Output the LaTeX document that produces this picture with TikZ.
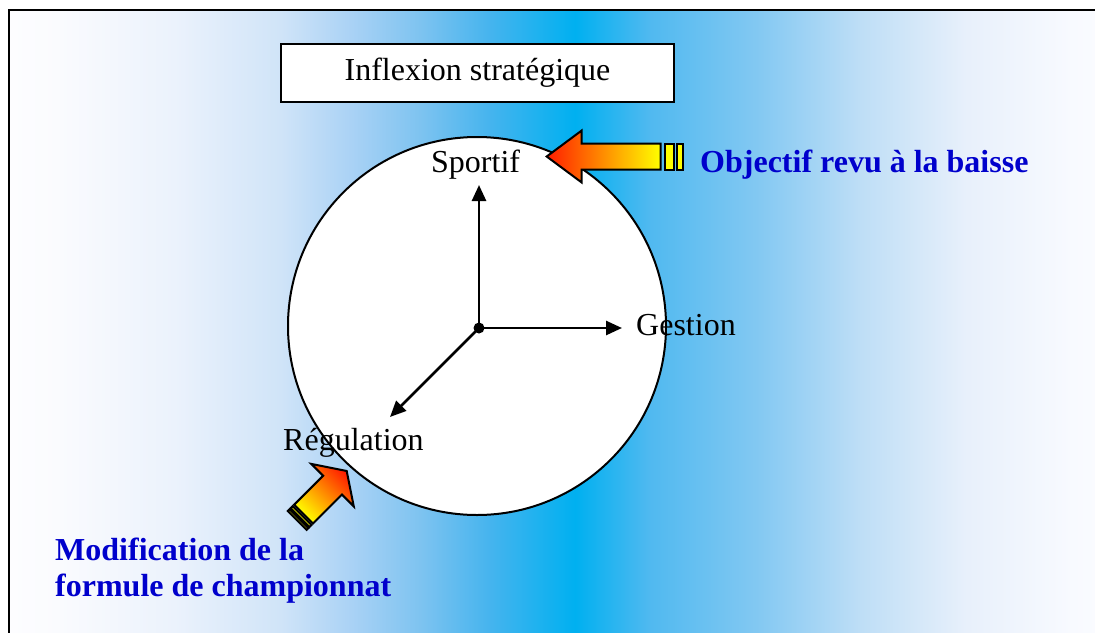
\documentclass[tikz,border=0pt]{standalone}
\usepackage{fontspec}
\setmainfont{Liberation Serif}
\usetikzlibrary{arrows.meta}
\definecolor{bga}{RGB}{253,253,255}
\definecolor{bgb}{RGB}{250,251,254}
\definecolor{bgc}{RGB}{235,242,252}
\definecolor{bgd}{RGB}{208,228,248}
\definecolor{bge}{RGB}{170,210,245}
\definecolor{bgf}{RGB}{125,195,240}
\definecolor{bgg}{RGB}{70,180,238}
\definecolor{bgh}{RGB}{0,176,240}
\definecolor{bgi}{RGB}{80,185,240}
\definecolor{bgj}{RGB}{130,200,242}
\definecolor{bgk}{RGB}{190,222,246}
\definecolor{bgl}{RGB}{232,240,251}
\definecolor{bgm}{RGB}{248,250,255}
\definecolor{bgn}{RGB}{253,253,255}
\definecolor{txtblue}{RGB}{0,0,204}
\definecolor{tipred}{RGB}{255,30,0}
\definecolor{midorange}{RGB}{255,140,0}
\definecolor{tailyellow}{RGB}{255,255,0}
\pgfdeclarehorizontalshading{bgshade}{100bp}{color(0bp)=(bga); color(25bp)=(bga); color(27.25bp)=(bgb); color(32.3bp)=(bgc); color(37bp)=(bgd); color(40.1bp)=(bge); color(43.2bp)=(bgf); color(46.2bp)=(bgg); color(50bp)=(bgh); color(53.3bp)=(bgi); color(58bp)=(bgj); color(62.6bp)=(bgk); color(67.3bp)=(bgl); color(71.9bp)=(bgm); color(75bp)=(bgn); color(100bp)=(bgn)}
\begin{document}
\begin{tikzpicture}[x=1pt,y=1pt,
  lbl/.style={font=\fontsize{32}{38}\selectfont, inner sep=0pt},
  blu/.style={font=\bfseries\fontsize{32}{38}\selectfont, text=txtblue, inner sep=0pt},
  axisline/.style={line width=2.6pt, -{Triangle[length=16pt,width=14pt]}},
  bigarrow/.style={draw=black, line width=2pt, line join=miter},
  bar/.style={draw=black, line width=2pt, fill=tailyellow}]
\useasboundingbox (0,0) rectangle (1095,-632);
\fill[white] (0,0) rectangle (1095,-632);
% frame with gradient
\draw[line width=2.6pt, shading=bgshade] (9,-10) rectangle (1141,-650);
% title box
\node[draw=black, line width=2.4pt, fill=white, minimum width=393pt, minimum height=58pt, inner sep=0pt,
  font=\fontsize{32}{38}\selectfont] (title) at (477.5,-73) {Inflexion stratégique};
% circle
\node[draw=black, line width=2pt, fill=white, circle, minimum size=378pt, inner sep=0pt] (wheel) at (477,-326) {};
% axes
\coordinate (O) at (479,-328);
\coordinate (tS) at (479,-185);
\coordinate (tG) at (622,-328);
\coordinate (tR) at (390,-417);
\draw[axisline] (O) -- (tS);
\draw[axisline] (O) -- (tG);
\draw[axisline] (O) -- (tR);
\fill[black] (O) circle (5.5pt);
% labels
\node[lbl, anchor=base west] (sportif) at (431,-172) {Sportif};
\node[lbl, anchor=base west] (gestion) at (636,-335) {Gestion};
\node[lbl, anchor=base west] (regul) at (283,-450) {Régulation};
\node[blu, anchor=base west] (objectif) at (700,-172) {Objectif revu à la baisse};
\node[blu, anchor=base west] (modif1) at (55,-560) {Modification de la};
\node[blu, anchor=base west] (modif2) at (55,-596) {formule de championnat};
% block arrow 1 (pointing left)
\begin{scope}[shift={(546.7,-156.5)}]
\draw[bigarrow, left color=tipred, middle color=midorange, right color=tailyellow]
  (0,0) -- (35,26) -- (35,13) -- (114,13) -- (114,-13) -- (35,-13) -- (35,-26) -- cycle;
\draw[bar] (118.3,-13) rectangle (127.3,13);
\draw[bar] (130.3,-13) rectangle (136,13);
\end{scope}
% block arrow 2 (pointing up-right)
\begin{scope}[shift={(346.7,-471)}, rotate=45]
\draw[bigarrow, top color=tipred, middle color=midorange, bottom color=tailyellow, shading angle=-45]
  (0,0) -- (-20,30) -- (-20,13.3) -- (-61,13.3) -- (-61,-13.3) -- (-20,-13.3) -- (-20,-30) -- cycle;
\draw[bar] (-63,-13.3) rectangle (-66,13.3);
\draw[bar] (-67.5,-13.3) rectangle (-70,13.3);
\end{scope}
\end{tikzpicture}
\end{document}
